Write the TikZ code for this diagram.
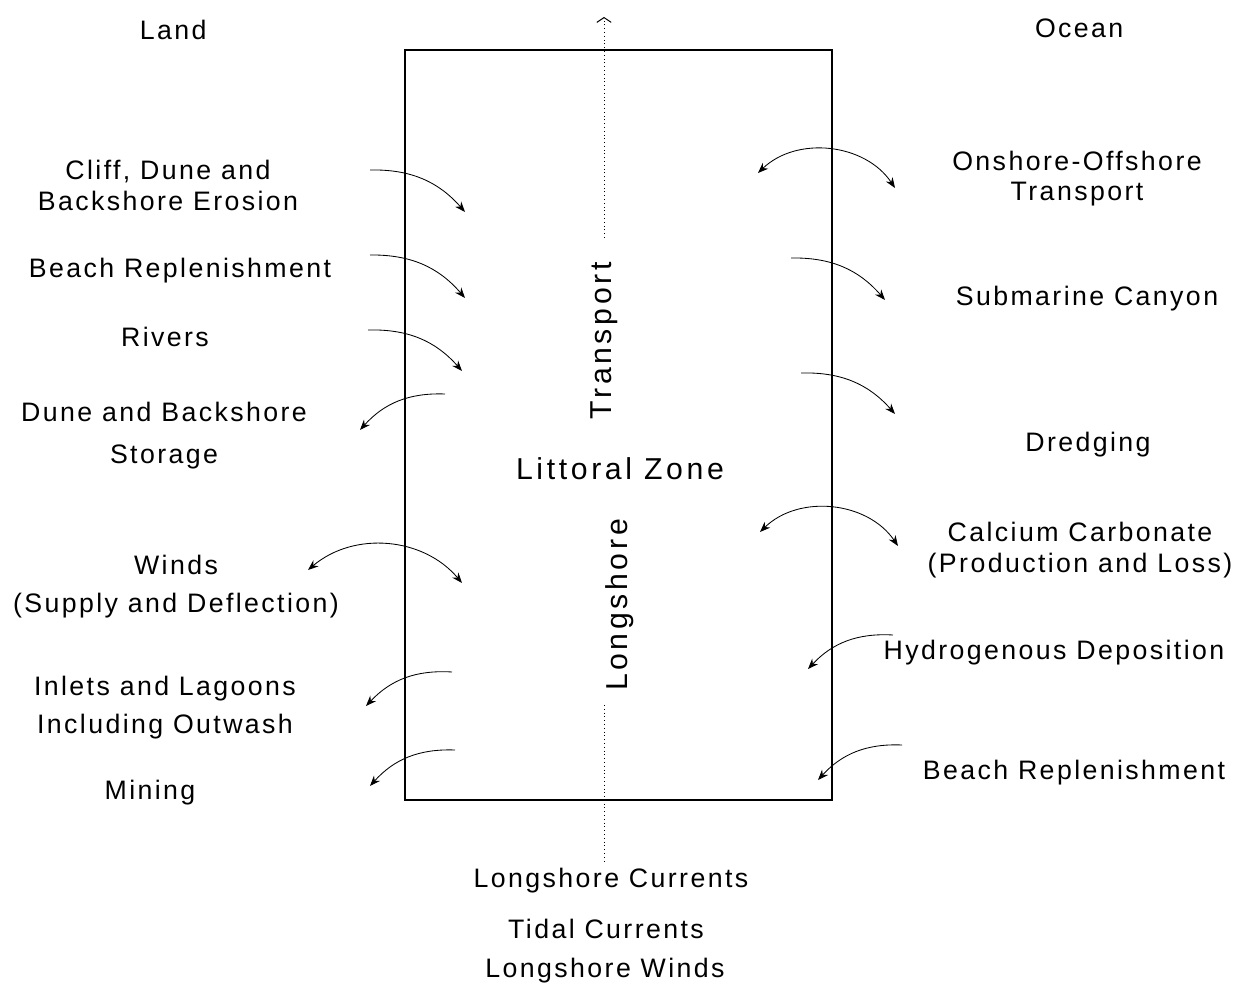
\documentclass[tikz,border=0pt]{standalone}
\usepackage{fontspec}
\newfontfamily\plotfont{Liberation Sans}[LetterSpace=9]
\newfontfamily\zonefont{Liberation Sans}[LetterSpace=12]
\usepackage{tikz}
\usetikzlibrary{arrows.meta,calc,positioning}

\begin{document}
\begin{tikzpicture}[>={Stealth[length=2.6mm,width=2mm]},
  font=\plotfont\fontsize{19}{22}\selectfont,
  lbl/.style={align=center,inner sep=1pt},
  zonelbl/.style={inner sep=1pt,font=\zonefont\fontsize{21.5}{24}\selectfont},
  flow/.style={->,line width=0.6pt},
  twoway/.style={<->,line width=0.6pt}]
  \useasboundingbox (0,0) rectangle (31,24.625);

  % littoral cell
  \node[draw,line width=0.9pt,minimum width=10.675cm,minimum height=18.75cm] (zone) at (15.46,14.0) {};
  \node[zonelbl] (littoral) at (15.5,12.9) {Littoral Zone};
  \node[zonelbl,rotate=90] (transport) at (15.1,16.1) {Transport};
  \node[zonelbl,rotate=90] (longshore) at (15.5,9.5) {Longshore};

  \coordinate (northEnd) at (15.1,24.2);
  \coordinate (northStart) at (15.1,18.675);
  \coordinate (southStart) at (15.1,7.0);
  \coordinate (southEnd) at (15.1,3.075);
  \draw[dotted,line width=0.7pt,-{Straight Barb[length=1.2mm,width=3.6mm]}] (northStart) -- (northEnd);
  \draw[dotted,line width=0.7pt] (southStart) -- (southEnd);

  % headings
  \node[lbl] (land) at (4.33,23.875) {Land};
  \node[lbl] (ocean) at (26.98,23.925) {Ocean};

  % land side
  \node[lbl] (cliff) at (4.2,20.0) {Cliff, Dune and\\Backshore Erosion};
  \node[lbl] (replLand) at (4.5,17.85) {Beach Replenishment};
  \node[lbl] (rivers) at (4.125,16.2) {Rivers};
  \node[lbl] (storage) at (4.1,13.74) {Dune and Backshore\\[8pt]Storage};
  \node[lbl] (winds) at (4.4,9.95) {Winds\\[5pt](Supply and Deflection)};
  \node[lbl] (inlets) at (4.125,6.925) {Inlets and Lagoons\\[5pt]Including Outwash};
  \node[lbl] (mining) at (3.75,4.8) {Mining};

  % ocean side
  \node[lbl] (onshore) at (26.925,20.16) {Onshore-Offshore\\Transport};
  \node[lbl] (canyon) at (27.175,17.15) {Submarine Canyon};
  \node[lbl] (dredging) at (27.2,13.5) {Dredging};
  \node[lbl] (carbonate) at (27.0,10.875) {Calcium Carbonate\\(Production and Loss)};
  \node[lbl] (hydro) at (26.35,8.3) {Hydrogenous Deposition};
  \node[lbl] (replOcean) at (26.85,5.3) {Beach Replenishment};

  % alongshore drivers
  \node[lbl] (currents) at (15.275,2.6) {Longshore Currents};
  \node[lbl] (tidal) at (15.15,1.4) {Tidal Currents};
  \node[lbl] (alongWinds) at (15.125,0.35) {Longshore Winds};

  % arrow ends
  \coordinate (cliffA) at (9.25,20.375);   \coordinate (cliffB) at (11.625,19.325);
  \coordinate (replLandA) at (9.25,18.25); \coordinate (replLandB) at (11.625,17.175);
  \coordinate (riversA) at (9.2,16.375);   \coordinate (riversB) at (11.55,15.35);
  \coordinate (storageA) at (11.125,14.775); \coordinate (storageB) at (9.0,13.875);
  \coordinate (windsA) at (7.7,10.375);    \coordinate (windsB) at (11.55,10.05);
  \coordinate (inletsA) at (11.3,7.825);   \coordinate (inletsB) at (9.15,6.975);
  \coordinate (miningA) at (11.375,5.875); \coordinate (miningB) at (9.25,4.975);

  \coordinate (onshoreA) at (18.95,20.3);  \coordinate (onshoreB) at (22.375,19.925);
  \coordinate (canyonA) at (19.775,18.175); \coordinate (canyonB) at (22.125,17.125);
  \coordinate (dredgingA) at (20.025,15.3); \coordinate (dredgingB) at (22.375,14.275);
  \coordinate (carbonateA) at (19.0,11.325); \coordinate (carbonateB) at (22.45,10.975);
  \coordinate (hydroA) at (22.325,8.75);   \coordinate (hydroB) at (20.2,7.9);
  \coordinate (replOceanA) at (22.55,6.0); \coordinate (replOceanB) at (20.45,5.125);

  \draw[flow] (cliffA) to[bend left=25] (cliffB);
  \draw[flow] (replLandA) to[bend left=25] (replLandB);
  \draw[flow] (riversA) to[bend left=25] (riversB);
  \draw[flow] (storageA) to[bend right=25] (storageB);
  \draw[twoway] (windsA) to[bend left=45] (windsB);
  \draw[flow] (inletsA) to[bend right=25] (inletsB);
  \draw[flow] (miningA) to[bend right=25] (miningB);

  \draw[twoway] (onshoreA) to[bend left=50] (onshoreB);
  \draw[flow] (canyonA) to[bend left=25] (canyonB);
  \draw[flow] (dredgingA) to[bend left=25] (dredgingB);
  \draw[twoway] (carbonateA) to[bend left=50] (carbonateB);
  \draw[flow] (hydroA) to[bend right=25] (hydroB);
  \draw[flow] (replOceanA) to[bend right=25] (replOceanB);
\end{tikzpicture}
\end{document}
